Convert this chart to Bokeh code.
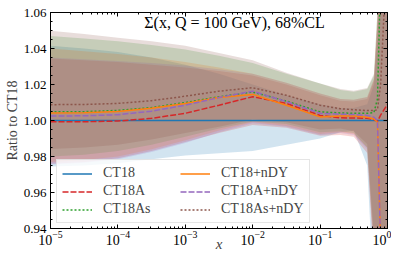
from bokeh.plotting import figure
from bokeh.models import (Range1d, LinearAxis, LogAxis, Legend, LegendItem, Label,
                          CustomJSTickFormatter, FixedTicker, NumeralTickFormatter)
from bokeh.embed import file_html
from bokeh.resources import INLINE

# ---- data ----
x = [1e-5, 3.16e-5, 1e-4, 3.16e-4, 1e-3, 3.16e-3, 1e-2, 3.16e-2, 0.1, 0.2, 0.316,
     0.5, 0.63, 0.71, 0.79, 1.0]

names = ["CT18", "CT18A", "CT18As", "CT18+nDY", "CT18A+nDY", "CT18As+nDY"]
colors = ["#1f77b4", "#d62728", "#2ca02c", "#ff7f0e", "#9467bd", "#8c564b"]
dashes = ["solid", "6 2", "2 2", "solid", "6 2", "2 2"]

ct18 = [1.0] * 16
ct18a = [0.9993, 0.9993, 0.9997, 1.0012, 1.0040, 1.0085, 1.0132, 1.0095, 1.0028, 1.0015,
         1.0014, 1.0012, 1.0005, 0.9995, 1.0030, 1.0090]
ct18as = [1.0048, 1.0049, 1.0056, 1.0072, 1.0100, 1.0132, 1.0158, 1.0108, 1.0048, 1.0042,
          1.0040, 1.0040, 1.0045, 1.0120, 1.0800, 1.1500]
ct18_ndy = [1.0042, 1.0043, 1.0050, 1.0068, 1.0095, 1.0128, 1.0145, 1.0085, 1.0020, 1.0025,
            1.0025, 1.0018, 1.0008, 0.9990, 0.9300, 0.8500]
ct18a_ndy = [1.0025, 1.0026, 1.0032, 1.0052, 1.0085, 1.0128, 1.0163, 1.0105, 1.0040, 1.0035,
             1.0033, 1.0028, 1.0018, 1.0000, 0.9300, 0.8500]
ct18as_ndy = [1.0088, 1.0089, 1.0095, 1.0110, 1.0135, 1.0163, 1.0182, 1.0140, 1.0085, 1.0065,
              1.0060, 1.0055, 1.0055, 1.0060, 1.0200, 1.1000]

ct18_lo = [0.9745, 0.9750, 0.9762, 0.9785, 0.9805, 0.9818, 0.9830, 0.9865, 0.9900, 0.9935,
           0.9945, 0.9750, 0.9000, 0.8500, 0.8000, 0.7000]
ct18_hi = [1.0415, 1.0400, 1.0380, 1.0350, 1.0310, 1.0260, 1.0200, 1.0140, 1.0090, 1.0070,
           1.0070, 1.0090, 1.0200, 1.0450, 1.0800, 1.3000]
ct18a_lo = [0.9760, 0.9770, 0.9790, 0.9830, 0.9880, 0.9930, 0.9975, 0.9960, 0.9915, 0.9920,
            0.9910, 0.9820, 0.9200, 0.8700, 0.8200, 0.7000]
ct18a_hi = [1.0345, 1.0335, 1.0325, 1.0310, 1.0295, 1.0275, 1.0250, 1.0200, 1.0140, 1.0110,
            1.0105, 1.0120, 1.0220, 1.0550, 1.0900, 1.3000]
ct18as_lo = [0.9800, 0.9810, 0.9830, 0.9865, 0.9910, 0.9955, 0.9995, 0.9980, 0.9935, 0.9940,
             0.9930, 0.9850, 0.9300, 0.8800, 0.8300, 0.7000]
ct18as_hi = [1.0470, 1.0455, 1.0440, 1.0420, 1.0395, 1.0360, 1.0320, 1.0260, 1.0205, 1.0170,
             1.0160, 1.0175, 1.0250, 1.0600, 1.1000, 1.3000]
ct18_ndy_lo = [0.9770, 0.9780, 0.9800, 0.9840, 0.9890, 0.9945, 0.9990, 0.9970, 0.9925, 0.9935,
               0.9925, 0.9850, 0.9250, 0.8750, 0.8250, 0.7000]
ct18_ndy_hi = [1.0400, 1.0385, 1.0370, 1.0350, 1.0325, 1.0295, 1.0260, 1.0210, 1.0150, 1.0120,
               1.0115, 1.0130, 1.0230, 1.0550, 1.0900, 1.3000]
ct18a_ndy_lo = [0.9755, 0.9765, 0.9785, 0.9825, 0.9875, 0.9935, 0.9985, 0.9965, 0.9920, 0.9930,
                0.9920, 0.9840, 0.9250, 0.8750, 0.8250, 0.7000]
ct18a_ndy_hi = [1.0350, 1.0340, 1.0330, 1.0320, 1.0305, 1.0285, 1.0260, 1.0210, 1.0150, 1.0120,
                1.0115, 1.0130, 1.0230, 1.0550, 1.0900, 1.3000]
ct18as_ndy_lo = [0.9842, 0.9850, 0.9865, 0.9895, 0.9930, 0.9965, 1.0005, 0.9990, 0.9950, 0.9955,
                 0.9940, 0.9870, 0.9350, 0.8850, 0.8350, 0.7000]
ct18as_ndy_hi = [1.0498, 1.0480, 1.0460, 1.0440, 1.0415, 1.0375, 1.0335, 1.0265, 1.0205, 1.0175,
                 1.0165, 1.0180, 1.0260, 1.0620, 1.1000, 1.3000]

y_major = [0.94, 0.96, 0.98, 1.00, 1.02, 1.04, 1.06]
x_major = [1e-5, 1e-4, 1e-3, 1e-2, 1e-1, 1.0]

centrals = [ct18, ct18a, ct18as, ct18_ndy, ct18a_ndy, ct18as_ndy]
lows = [ct18_lo, ct18a_lo, ct18as_lo, ct18_ndy_lo, ct18a_ndy_lo, ct18as_ndy_lo]
highs = [ct18_hi, ct18a_hi, ct18as_hi, ct18_ndy_hi, ct18a_ndy_hi, ct18as_ndy_hi]

SERIF = "Liberation Serif"

p = figure(width=391, height=255, x_axis_type="log",
           x_range=Range1d(1e-5, 1.0), y_range=Range1d(0.94, 1.06),
           output_backend="svg", toolbar_location=None,
           min_border_left=50, min_border_right=4, min_border_top=12, min_border_bottom=27)
p.xgrid.visible = False
p.ygrid.visible = False
p.outline_line_color = "black"
p.outline_line_width = 1
p.background_fill_color = "white"

for lo, hi, c in zip(lows, highs, colors):
    p.varea(x=x, y1=lo, y2=hi, fill_color=c, fill_alpha=0.2)

renderers = []
for yv, c, d in zip(centrals, colors, dashes):
    r = p.line(x=x, y=yv, line_color=c, line_width=1.5, line_dash=d)
    renderers.append(r)

x_minor = [k * 10.0 ** e for e in range(-5, 0) for k in range(2, 10)]
y_minor = [round(0.94 + 0.005 * i, 3) for i in range(25) if i % 4 != 0]


def style_axis(ax, labels=True):
    ax.axis_line_color = "black"
    ax.major_tick_in = 4
    ax.major_tick_out = 0
    ax.minor_tick_in = 2
    ax.minor_tick_out = 0
    ax.major_tick_line_color = "black"
    ax.minor_tick_line_color = "black"
    ax.major_label_text_font = SERIF
    ax.major_label_text_color = "black"
    if labels:
        ax.major_label_text_font_size = "13px"
    else:
        ax.major_label_text_font_size = "1px"
        ax.major_label_standoff = 0
        ax.formatter = CustomJSTickFormatter(code="return ''")


xax = p.xaxis[0]
xax.ticker = FixedTicker(ticks=x_major, minor_ticks=x_minor)
style_axis(xax)
xax.major_label_text_font_size = "14px"
xax.major_label_standoff = 2
xax.axis_label = "x"
xax.axis_label_text_font = SERIF
xax.axis_label_text_font_size = "15px"
xax.axis_label_text_font_style = "italic"
xax.axis_label_standoff = -12

yax = p.yaxis[0]
yax.ticker = FixedTicker(ticks=y_major, minor_ticks=y_minor)
yax.formatter = NumeralTickFormatter(format="0.00")
style_axis(yax)
yax.major_label_standoff = 4
yax.axis_label = "Ratio to CT18"
yax.axis_label_text_font = SERIF
yax.axis_label_text_font_size = "14px"
yax.axis_label_text_font_style = "normal"
yax.axis_label_standoff = 1

rax = LinearAxis(ticker=FixedTicker(ticks=y_major, minor_ticks=y_minor))
style_axis(rax, labels=False)
p.add_layout(rax, "right")
tax = LogAxis(ticker=FixedTicker(ticks=x_major, minor_ticks=x_minor))
style_axis(tax, labels=False)
p.add_layout(tax, "above")

title = Label(x=186, y=206, x_units="screen", y_units="screen",
              text="Σ(x, Q = 100 GeV),  68%CL", text_font=SERIF, text_font_size="16px",
              text_align="center", text_baseline="middle", text_color="black")
p.add_layout(title)

legend = Legend(items=[LegendItem(label=n, renderers=[r]) for n, r in zip(names, renderers)],
                location=(6, 5), ncols=2, glyph_width=30, glyph_height=15,
                label_standoff=11, label_width=75, label_height=15, spacing=2, padding=5,
                margin=0,
                label_text_font=SERIF, label_text_font_size="14px",
                background_fill_color="white", background_fill_alpha=0.8,
                border_line_color="#cccccc", border_line_width=1)
p.add_layout(legend)

open("out.html", "w").write(file_html(p, INLINE))
